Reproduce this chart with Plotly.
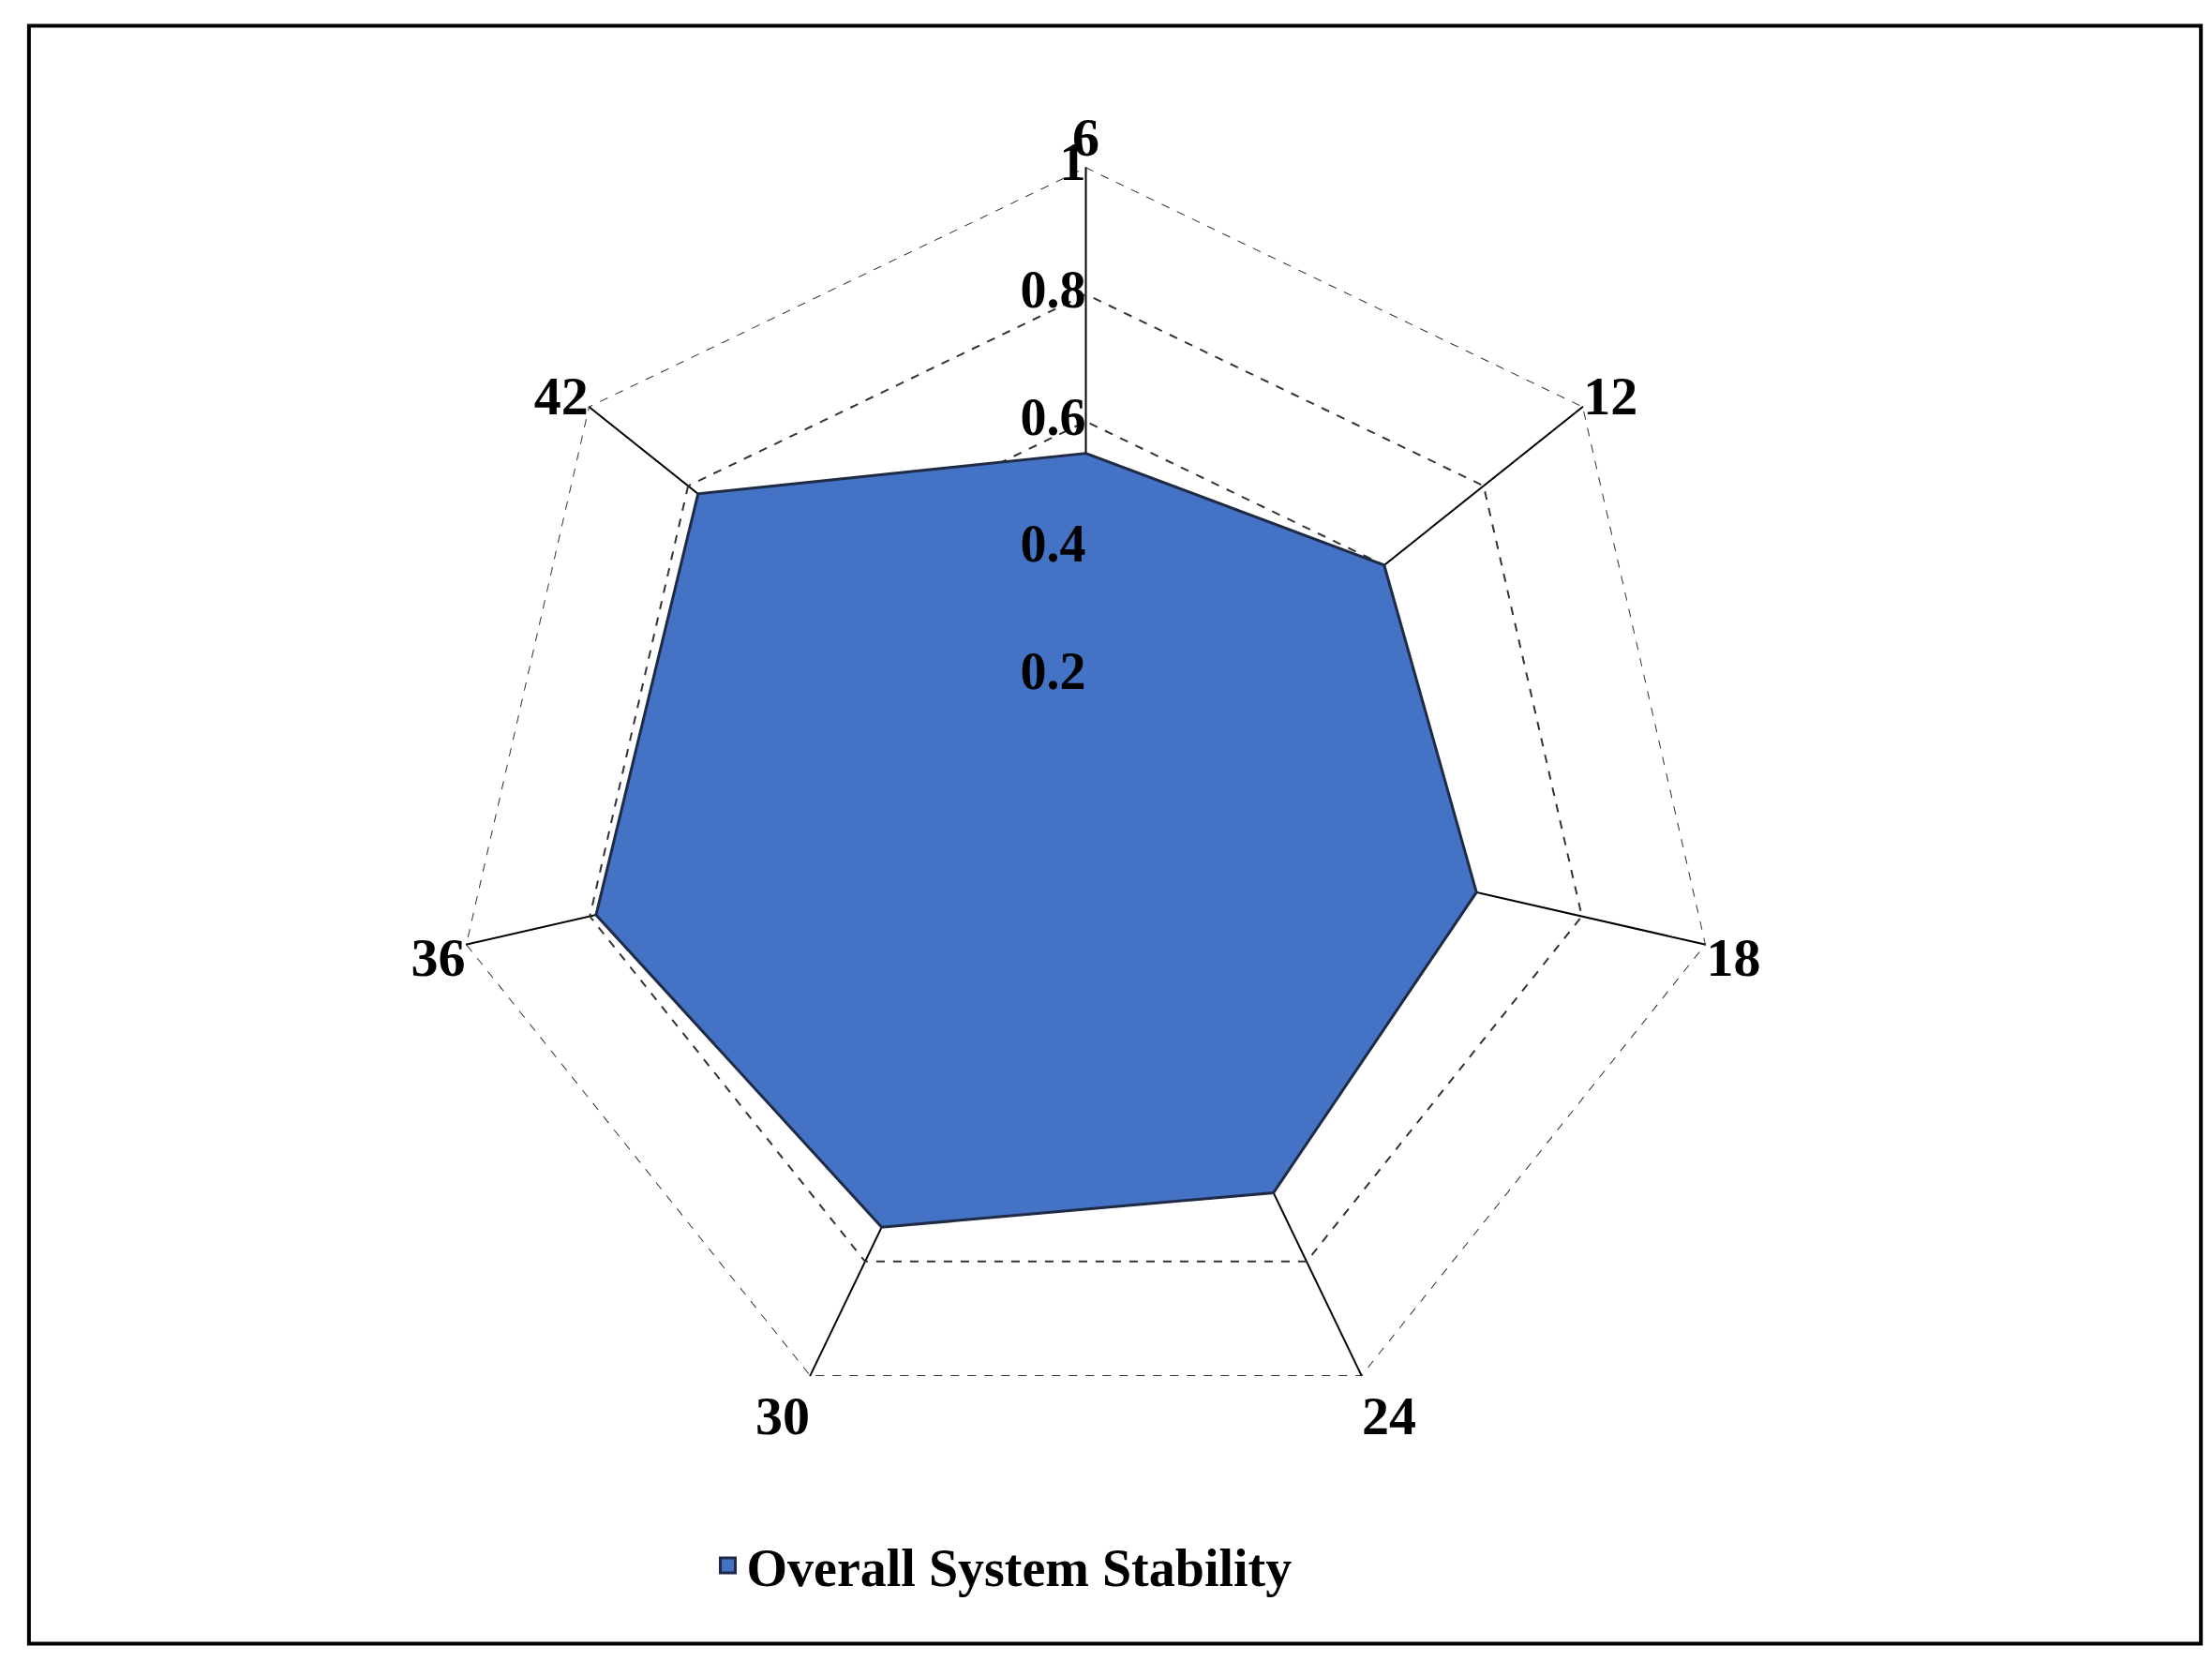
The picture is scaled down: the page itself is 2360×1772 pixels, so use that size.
import plotly.graph_objects as go

categories = ["6", "12", "18", "24", "30", "36", "42"]
values = [0.55, 0.60, 0.63, 0.68, 0.74, 0.79, 0.78]
radial_ticks = [0, 0.2, 0.4, 0.6, 0.8, 1]

fnt = dict(family="Liberation Serif", color="black")

fig = go.Figure()
# outer dashed boundary at r = 1
fig.add_trace(go.Scatterpolar(
    r=[1] * (len(categories) + 1), theta=categories + categories[:1],
    mode="lines", line=dict(color="#333333", width=2, dash="dash"),
    showlegend=False, hoverinfo="skip"))
fig.add_trace(go.Scatterpolar(
    r=values + values[:1], theta=categories + categories[:1],
    mode="lines", fill="toself", fillcolor="#4472C4",
    line=dict(color="#1F2A44", width=3), showlegend=False))
# radial tick labels along the "6" axis
fig.add_trace(go.Scatterpolar(
    r=radial_ticks, theta=[categories[0]] * len(radial_ticks),
    mode="text", text=[f"<b>{t:g}</b>" for t in radial_ticks],
    textposition="middle left", textfont=dict(size=56, **fnt),
    showlegend=False, hoverinfo="skip"))
# legend entry
fig.add_trace(go.Scatterpolar(
    r=[None], theta=[categories[0]], mode="markers",
    marker=dict(symbol="square", size=34, color="#4472C4", line=dict(color="#1F2A44", width=3)),
    name="<b>Overall System Stability</b>"))

fig.update_layout(
    width=2360, height=1772, paper_bgcolor="white",
    margin=dict(l=0, r=0, t=0, b=0),
    showlegend=True,
    legend=dict(orientation="h", x=0.45, xanchor="center", y=0.062, yanchor="middle",
                font=dict(size=56, **fnt)),
    polar=dict(
        domain=dict(x=[0.200, 0.775], y=[0.138, 0.904]),
        bgcolor="rgba(0,0,0,0)",
        gridshape="linear",
        radialaxis=dict(range=[0, 1.0], tickvals=radial_ticks, showticklabels=False,
                        showline=False, ticks="",
                        gridcolor="#333333", griddash="dash", gridwidth=2,
                        layer="below traces"),
        angularaxis=dict(direction="clockwise", rotation=90, showline=False,
                         gridcolor="black", gridwidth=2, ticks="",
                         tickvals=categories, ticktext=[f"<b>{c}</b>" for c in categories],
                         tickfont=dict(size=58, **fnt), layer="above traces"),
    ),
)
fig.add_shape(type="rect", xref="paper", yref="paper", x0=0.0097, x1=0.9916,
              y0=0.015, y1=0.989, line=dict(color="black", width=4))
fig.write_html("out.html")
